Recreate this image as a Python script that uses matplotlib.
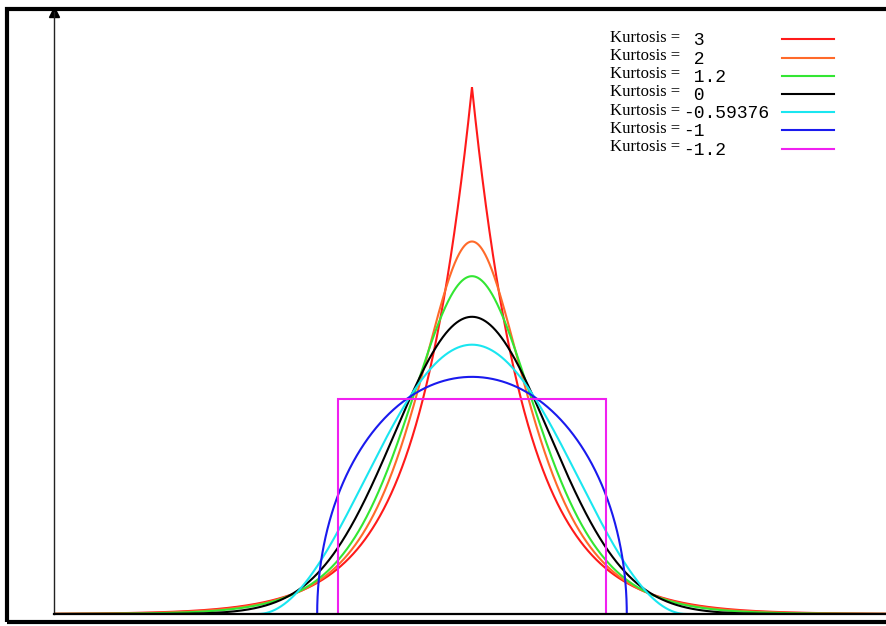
import numpy as np
import matplotlib
matplotlib.use("Agg")
import matplotlib.pyplot as plt
from matplotlib.patches import Rectangle

# kurtosis of each unit-variance distribution, in legend order
kurtosis_labels = [" 3", " 2", " 1.2", " 0", "-0.59376", "-1", "-1.2"]
names = ["laplace", "sech", "logistic", "normal", "raised_cosine", "semicircle", "uniform"]
colors = ["#ff1a1a", "#ff6a2a", "#33e633", "#000000", "#1ae6f0", "#1a1aee", "#f020f0"]

W, H = 886, 626
fig = plt.figure(figsize=(W / 100, H / 100), dpi=100)
ax = fig.add_axes([54 / W, 12 / H, (W - 54) / W, (614 - 12) / H])

x = np.linspace(-5.4, 5.4, 4321)


def pdf(name):
    if name == "laplace":
        b = 1 / np.sqrt(2)
        return x, np.exp(-np.abs(x) / b) / (2 * b)
    if name == "sech":
        return x, 0.5 / np.cosh(np.pi * x / 2)
    if name == "logistic":
        s = np.sqrt(3) / np.pi
        e = np.exp(-np.abs(x) / s)
        return x, e / (s * (1 + e) ** 2)
    if name == "normal":
        return x, np.exp(-x ** 2 / 2) / np.sqrt(2 * np.pi)
    if name == "raised_cosine":
        s = 1 / np.sqrt(1 / 3 - 2 / np.pi ** 2)
        xx = np.linspace(-s, s, 1201)
        return xx, (1 + np.cos(np.pi * xx / s)) / (2 * s)
    if name == "semicircle":
        r = 2.0
        t = np.linspace(np.pi, 0, 1201)
        xx = r * np.cos(t)
        return xx, 2 / (np.pi * r ** 2) * np.sqrt(np.clip(r ** 2 - xx ** 2, 0, None))
    a = np.sqrt(3)
    h = 1 / (2 * a)
    return np.array([-a, -a, a, a]), np.array([0, h, h, 0])


for name, c in zip(names, colors):
    xx, yy = pdf(name)
    ax.plot(xx, yy, color=c, lw=1.5, solid_joinstyle="miter")

ax.set_xlim(-5.4, (W - 472) / 77.4)
ax.set_ylim(0, 602 / 745)
ax.set_xticks([])
ax.set_yticks([])
for side in ["top", "right"]:
    ax.spines[side].set_visible(False)
ax.spines["left"].set_linewidth(1.0)
ax.spines["left"].set_color("#222222")
ax.spines["bottom"].set_linewidth(1.6)
ax.plot([0], [1], marker="^", color="k", ms=7, transform=ax.transAxes, clip_on=False)

# legend drawn as text + short lines
row_y = [39.3, 57.7, 75.7, 94, 112.3, 130.3, 148.7]
for yy, lab, c in zip(row_y, kurtosis_labels, colors):
    fig.text(610 / W, 1 - (yy - 1.5) / H, "Kurtosis =", family="Liberation Serif",
             fontsize=12, va="center", ha="left")
    fig.text(683 / W, 1 - (yy + 1.5) / H, lab, family="Liberation Mono",
             fontsize=13, va="center", ha="left")
    fig.add_artist(plt.Line2D([782 / W, 834 / W], [1 - yy / H, 1 - yy / H], color=c, lw=1.5))

# thick outer frame (right edge falls outside the picture)
fig.patches.append(Rectangle((7 / W, 1 - 622 / H), 1.2, (622 - 8.5) / H, transform=fig.transFigure,
                             fill=False, lw=3, edgecolor="k", zorder=0))

fig.savefig("out.png", dpi=100)
